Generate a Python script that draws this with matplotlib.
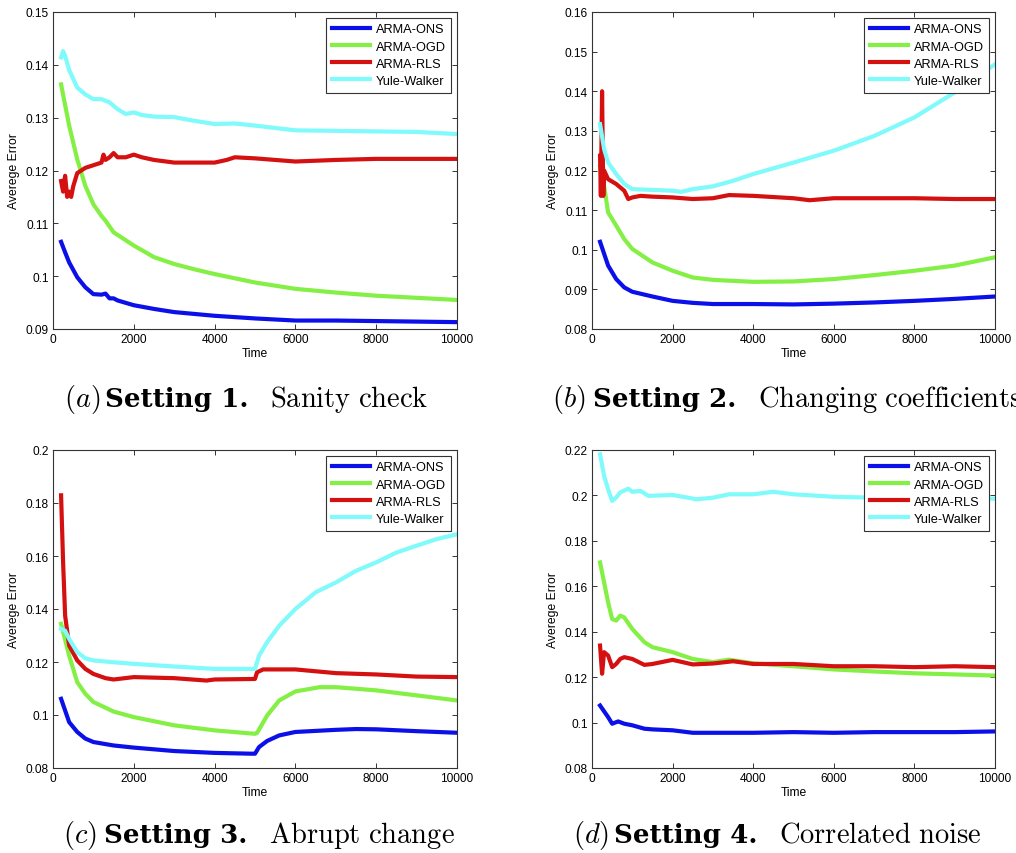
import matplotlib
matplotlib.use("Agg")
import matplotlib.pyplot as plt
from matplotlib.ticker import FuncFormatter

plt.rcParams["font.family"] = ["Liberation Sans", "DejaVu Sans"]
plt.rcParams["mathtext.fontset"] = "cm"

labels = ["ARMA-ONS", "ARMA-OGD", "ARMA-RLS", "Yule-Walker"]
colors = ["#0c10e8", "#84f045", "#d41010", "#80fafa"]

# ---- Setting 1: sanity check ----
a_t_ons = [200, 300, 400, 600, 800, 1000, 1200, 1300, 1400, 1500, 1600, 2000, 2500, 3000,
           4000, 5000, 6000, 7000, 8000, 9000, 10000]
a_ons = [0.1065, 0.1045, 0.1026, 0.0998, 0.0979, 0.0966, 0.0965, 0.0967, 0.0958, 0.0958,
         0.0954, 0.0945, 0.0938, 0.0932, 0.0925, 0.0920, 0.0916, 0.0916, 0.0915, 0.0914, 0.0913]
a_t_ogd = [200, 400, 600, 800, 1000, 1200, 1300, 1500, 2000, 2500, 3000, 3500, 4000, 5000,
           6000, 7000, 8000, 9000, 10000]
a_ogd = [0.1363, 0.1285, 0.1221, 0.1171, 0.1136, 0.1114, 0.1105, 0.1083, 0.1058, 0.1036,
         0.1023, 0.1013, 0.1004, 0.0988, 0.0976, 0.0969, 0.0963, 0.0959, 0.0955]
a_t_rls = [200, 250, 300, 350, 400, 450, 500, 600, 800, 1000, 1200, 1250, 1300, 1400, 1500,
           1600, 1800, 2000, 2200, 2500, 3000, 3500, 4000, 4300, 4500, 5000, 6000, 7000,
           8000, 9000, 10000]
a_rls = [0.1180, 0.1160, 0.1190, 0.1150, 0.1160, 0.1150, 0.1170, 0.1195, 0.1205, 0.1210,
         0.1215, 0.1230, 0.1220, 0.1225, 0.1233, 0.1225, 0.1225, 0.1230, 0.1225, 0.1220,
         0.1215, 0.1215, 0.1215, 0.1220, 0.1225, 0.1223, 0.1217, 0.1220, 0.1222, 0.1222, 0.1222]
a_t_yw = [200, 250, 300, 400, 600, 800, 1000, 1200, 1400, 1600, 1800, 2000, 2200, 2500, 3000,
          3500, 4000, 4500, 5000, 6000, 7000, 8000, 9000, 10000]
a_yw = [0.1414, 0.1426, 0.1417, 0.1390, 0.1357, 0.1344, 0.1335, 0.1335, 0.1329, 0.1316,
        0.1307, 0.1310, 0.1305, 0.1302, 0.1301, 0.1294, 0.1288, 0.1289, 0.1285, 0.1276,
        0.1275, 0.1274, 0.1273, 0.1269]

# ---- Setting 2: changing coefficients ----
b_t_ons = [200, 400, 600, 800, 1000, 1500, 2000, 2500, 3000, 4000, 5000, 6000, 7000, 8000,
           9000, 10000]
b_ons = [0.1020, 0.0960, 0.0926, 0.0905, 0.0894, 0.0882, 0.0871, 0.0866, 0.0863, 0.0863,
         0.0862, 0.0864, 0.0867, 0.0871, 0.0876, 0.0882]
b_t_ogd = [200, 300, 400, 600, 800, 1000, 1500, 2000, 2500, 3000, 4000, 5000, 6000, 7000,
           8000, 9000, 10000]
b_ogd = [0.1210, 0.1161, 0.1094, 0.1061, 0.1027, 0.1002, 0.0968, 0.0947, 0.0930, 0.0924,
         0.0919, 0.0920, 0.0926, 0.0936, 0.0947, 0.0960, 0.0981]
b_t_rls = [200, 220, 250, 280, 300, 400, 600, 800, 900, 1000, 1200, 1500, 2000, 2500, 3000,
           3400, 4000, 5000, 5400, 6000, 7000, 8000, 9000, 10000]
b_rls = [0.1237, 0.1136, 0.1400, 0.1136, 0.1200, 0.1178, 0.1166, 0.1149, 0.1128, 0.1132,
         0.1136, 0.1134, 0.1132, 0.1128, 0.1130, 0.1138, 0.1136, 0.1130, 0.1125, 0.1130,
         0.1130, 0.1130, 0.1128, 0.1128]
b_t_yw = [200, 300, 400, 600, 800, 1000, 1500, 2000, 2200, 2500, 3000, 3500, 4000, 5000,
          6000, 7000, 8000, 9000, 10000]
b_yw = [0.1317, 0.1254, 0.1220, 0.1191, 0.1166, 0.1153, 0.1151, 0.1149, 0.1146, 0.1153,
        0.1160, 0.1174, 0.1191, 0.1220, 0.1250, 0.1287, 0.1334, 0.1397, 0.1468]

# ---- Setting 3: abrupt change ----
c_t_ons = [200, 400, 600, 800, 1000, 1500, 2000, 3000, 4000, 4900, 5000, 5100, 5300, 5600,
           6000, 7000, 7500, 8000, 9000, 10000]
c_ons = [0.1061, 0.0973, 0.0936, 0.0911, 0.0898, 0.0885, 0.0877, 0.0864, 0.0857, 0.0854,
         0.0854, 0.0879, 0.0902, 0.0923, 0.0936, 0.0944, 0.0947, 0.0946, 0.0939, 0.0933]
c_t_ogd = [200, 400, 600, 800, 1000, 1500, 2000, 3000, 4000, 5000, 5050, 5300, 5600, 6000,
           6600, 7000, 8000, 9000, 10000]
c_ogd = [0.1344, 0.1224, 0.1124, 0.1080, 0.1049, 0.1013, 0.0992, 0.0961, 0.0942, 0.0929,
         0.0932, 0.0998, 0.1055, 0.1089, 0.1105, 0.1105, 0.1093, 0.1074, 0.1055]
c_t_rls = [200, 250, 300, 400, 600, 800, 1000, 1300, 1500, 2000, 3000, 3800, 4000, 5000,
           5050, 5200, 6000, 7000, 8000, 9000, 10000]
c_rls = [0.1829, 0.1576, 0.1375, 0.1262, 0.1206, 0.1174, 0.1155, 0.1139, 0.1134, 0.1143,
         0.1139, 0.1130, 0.1134, 0.1136, 0.1161, 0.1172, 0.1172, 0.1158, 0.1153, 0.1145, 0.1143]
c_t_yw = [200, 300, 400, 600, 800, 1000, 1500, 2000, 3000, 4000, 5000, 5100, 5300, 5600,
          6000, 6500, 7000, 7500, 8000, 8500, 9000, 9500, 10000]
c_yw = [0.1325, 0.1318, 0.1287, 0.1237, 0.1214, 0.1206, 0.1199, 0.1193, 0.1183, 0.1174,
        0.1174, 0.1224, 0.1275, 0.1337, 0.1400, 0.1463, 0.1500, 0.1544, 0.1576, 0.1613,
        0.1639, 0.1664, 0.1682]

# ---- Setting 4: correlated noise ----
d_t_ons = [200, 400, 500, 650, 800, 1000, 1300, 1500, 2000, 2500, 3000, 4000, 5000, 6000,
           7000, 8000, 9000, 10000]
d_ons = [0.1075, 0.1024, 0.0995, 0.1005, 0.0995, 0.0988, 0.0973, 0.0970, 0.0966, 0.0955,
         0.0955, 0.0955, 0.0958, 0.0955, 0.0958, 0.0958, 0.0958, 0.0961]
d_t_ogd = [200, 300, 400, 500, 600, 700, 800, 1000, 1300, 1500, 2000, 2500, 3000, 3400,
           4000, 5000, 6000, 7000, 8000, 9000, 10000]
d_ogd = [0.1705, 0.1617, 0.1529, 0.1456, 0.1449, 0.1471, 0.1463, 0.1412, 0.1354, 0.1332,
         0.1310, 0.1280, 0.1266, 0.1277, 0.1261, 0.1248, 0.1234, 0.1225, 0.1217, 0.1212, 0.1207]
d_t_rls = [200, 250, 300, 400, 500, 600, 700, 800, 1000, 1300, 1500, 2000, 2500, 3000, 3500,
           4000, 5000, 6000, 7000, 8000, 9000, 10000]
d_rls = [0.1339, 0.1215, 0.1310, 0.1295, 0.1244, 0.1258, 0.1280, 0.1288, 0.1280, 0.1254,
         0.1258, 0.1276, 0.1256, 0.1260, 0.1270, 0.1258, 0.1258, 0.1248, 0.1248, 0.1244,
         0.1248, 0.1244]
d_t_yw = [200, 300, 400, 500, 600, 700, 900, 1000, 1200, 1400, 2000, 2600, 3000, 3400, 4000,
          4500, 5000, 6000, 7000, 8000, 9000, 10000]
d_yw = [0.2181, 0.2086, 0.2027, 0.1976, 0.1991, 0.2013, 0.2030, 0.2016, 0.2020, 0.1998,
        0.2002, 0.1983, 0.1990, 0.2005, 0.2005, 0.2016, 0.2005, 0.1994, 0.1990, 0.1990,
        0.1988, 0.1986]

panels = [
    ([a_t_ons, a_t_ogd, a_t_rls, a_t_yw], [a_ons, a_ogd, a_rls, a_yw], (0.09, 0.15), 0.01),
    ([b_t_ons, b_t_ogd, b_t_rls, b_t_yw], [b_ons, b_ogd, b_rls, b_yw], (0.08, 0.16), 0.01),
    ([c_t_ons, c_t_ogd, c_t_rls, c_t_yw], [c_ons, c_ogd, c_rls, c_yw], (0.08, 0.20), 0.02),
    ([d_t_ons, d_t_ogd, d_t_rls, d_t_yw], [d_ons, d_ogd, d_rls, d_yw], (0.08, 0.22), 0.02),
]
cap_letters = ["a", "b", "c", "d"]
cap_bold = ["Setting 1.", "Setting 2.", "Setting 3.", "Setting 4."]
cap_rest = ["Sanity check", "Changing coefficients", "Abrupt change", "Correlated noise"]

W, H = 1016, 854
fig = plt.figure(figsize=(W / 100, H / 100), dpi=100)

# axes boxes in pixels: left, top, right, bottom
boxes = [(53, 13, 457, 330), (592, 13, 995, 330), (53, 451, 457, 769), (592, 451, 995, 769)]
# caption left edge and baseline, pixels
cap_xy = [(64, 407), (552, 407), (63, 843), (573, 843)]

fmt = FuncFormatter(lambda v, p: "%g" % round(v, 4))
edge = "#333333"
cap_fs = 20.5
bold_fs = 18.8

for i, (ts, ys, ylim, ystep) in enumerate(panels):
    l, t, r, b = boxes[i]
    ax = fig.add_axes([l / W, 1 - b / H, (r - l) / W, (b - t) / H])
    for tt, yy, lab, col in zip(ts, ys, labels, colors):
        ax.plot(tt, yy, color=col, lw=3.0, label=lab, solid_joinstyle="round")
    ax.set_xlim(0, 10000)
    ax.set_ylim(*ylim)
    ax.set_xticks(range(0, 10001, 2000))
    n = int(round((ylim[1] - ylim[0]) / ystep))
    ax.set_yticks([ylim[0] + k * ystep for k in range(n + 1)])
    ax.yaxis.set_major_formatter(fmt)
    ax.tick_params(direction="in", top=True, right=True, length=3.5, width=0.7,
                   colors=edge, labelcolor="black", labelsize=8.6, pad=3)
    for s in ax.spines.values():
        s.set_color(edge)
        s.set_linewidth(0.8)
    ax.set_xlabel("Time", fontsize=8.7, labelpad=1)
    ax.set_ylabel("Averege Error", fontsize=8.7, labelpad=4)
    leg = ax.legend(loc="upper right", fontsize=9.2, fancybox=False, framealpha=1,
                    edgecolor=edge, borderpad=0.45, labelspacing=0.4, handlelength=3.0,
                    handletextpad=0.4, borderaxespad=0.45)
    leg.get_frame().set_linewidth(0.8)

    # caption: (x) Setting n. description
    cx, cy = cap_xy[i]
    yb = 1 - cy / H
    fig.text(cx / W, yb, r"$(%s)$" % cap_letters[i], fontsize=cap_fs, va="baseline")
    fig.text((cx + 41) / W, yb, cap_bold[i], fontsize=bold_fs, va="baseline",
             family="DejaVu Serif", weight="bold")
    fig.text((cx + 206) / W, yb, r"$\mathrm{%s}$" % cap_rest[i].replace(" ", r"\ "),
             fontsize=cap_fs, va="baseline")

fig.savefig("out.png", dpi=100)
